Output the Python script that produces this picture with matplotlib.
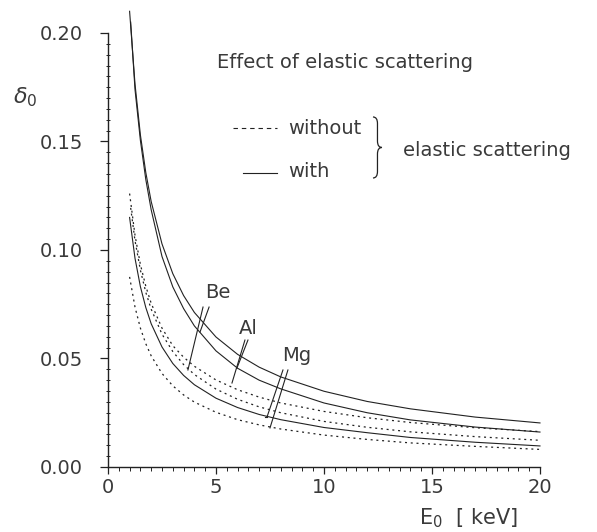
import matplotlib
matplotlib.use("Agg")
import matplotlib.pyplot as plt
from matplotlib.path import Path
from matplotlib.patches import PathPatch
from matplotlib.ticker import MultipleLocator, FormatStrFormatter

# beam energy grid [keV] and backscattering yield delta_0
E_be_with = [1.0, 1.25, 1.5, 1.75, 2, 2.5, 3, 3.5, 4, 5, 6, 7, 8, 10, 12, 14, 17, 20]
be_with = [0.210, 0.1765, 0.1530, 0.1357, 0.1223, 0.1028, 0.0891, 0.0790, 0.0712,
           0.0599, 0.0519, 0.0460, 0.0415, 0.0349, 0.0302, 0.0268, 0.0230, 0.0203]

E_al_with = [1.05, 1.25, 1.5, 1.75, 2, 2.5, 3, 3.5, 4, 5, 6, 7, 8, 10, 12, 14, 17, 20]
al_with = [0.205, 0.174, 0.1505, 0.1325, 0.1185, 0.097, 0.083, 0.073, 0.0650,
           0.0535, 0.0455, 0.0400, 0.0360, 0.0295, 0.0250, 0.0217, 0.0184, 0.0161]

E_mg_with = [1.0, 1.25, 1.5, 1.75, 2, 2.5, 3, 3.5, 4, 5, 6, 7, 8, 10, 12, 14, 17, 20]
mg_with = [0.115, 0.0962, 0.0831, 0.0735, 0.0660, 0.0553, 0.0477, 0.0422, 0.0379,
           0.0317, 0.0274, 0.0242, 0.0218, 0.0182, 0.0158, 0.0136, 0.0114, 0.0097]

E_be_without = [1.0, 1.25, 1.5, 1.75, 2, 2.5, 3, 3.5, 4, 5, 6, 7, 8, 10, 12, 14, 17, 20]
be_without = [0.126, 0.1068, 0.0933, 0.0833, 0.0754, 0.0640, 0.0559, 0.0506, 0.0464,
              0.0401, 0.0356, 0.0322, 0.0295, 0.0256, 0.0227, 0.0205, 0.0181, 0.0163]

E_al_without = [1.05, 1.25, 1.5, 1.75, 2, 2.5, 3, 3.5, 4, 5, 6, 7, 8, 10, 12, 14, 17, 20]
al_without = [0.1194, 0.1043, 0.0907, 0.0805, 0.0727, 0.0612, 0.0532, 0.0472, 0.0426,
              0.0359, 0.0312, 0.0277, 0.0250, 0.0210, 0.0183, 0.0162, 0.0140, 0.0123]

E_mg_without = [1.0, 1.25, 1.5, 1.75, 2, 2.5, 3, 3.5, 4, 5, 6, 7, 8, 10, 12, 14, 17, 20]
mg_without = [0.0876, 0.0737, 0.0640, 0.0568, 0.0512, 0.0431, 0.0374, 0.0332, 0.0299,
              0.0252, 0.0218, 0.0194, 0.0175, 0.0147, 0.0127, 0.0111, 0.0095, 0.0081]

# element labels and their pointer strokes (data coords)
labels = ["Be", "Al", "Mg"]
label_pos = [(5.09, 0.0802), (6.48, 0.0640), (8.06, 0.0516)]
label_ha = ["center", "center", "left"]
strokes = [
    [(3.70, 0.0447), (4.40, 0.0737)], [(4.26, 0.0622), (4.68, 0.0737)],
    [(5.74, 0.0387), (6.34, 0.0585)], [(5.97, 0.0456), (6.48, 0.0585)],
    [(7.50, 0.0180), (8.33, 0.0447)], [(7.36, 0.0230), (8.10, 0.0447)],
    [(7.25, 0.0230), (7.36, 0.0230)],
]

ink = "#222222"
txt = "#3a3a3a"
dots = (0, (1.6, 3.0))

fig = plt.figure(figsize=(5.97, 5.32), dpi=100)
ax = fig.add_axes([0.1809, 0.1222, 0.7236, 0.8158])

for E, d in [(E_be_with, be_with), (E_al_with, al_with), (E_mg_with, mg_with)]:
    ax.plot(E, d, color=ink, lw=0.8, clip_on=False)
for E, d in [(E_be_without, be_without), (E_al_without, al_without),
             (E_mg_without, mg_without)]:
    ax.plot(E, d, color=ink, lw=0.9, ls=dots, clip_on=False)

for s in strokes:
    ax.plot([s[0][0], s[1][0]], [s[0][1], s[1][1]], color=ink, lw=0.8)
for t, p, ha in zip(labels, label_pos, label_ha):
    ax.text(p[0], p[1], t, ha=ha, va="center", fontsize=14, color=txt)

ax.set_xlim(0, 20)
ax.set_ylim(0, 0.20)
ax.xaxis.set_major_locator(MultipleLocator(5))
ax.xaxis.set_minor_locator(MultipleLocator(0.5))
ax.yaxis.set_major_locator(MultipleLocator(0.05))
ax.yaxis.set_minor_locator(MultipleLocator(0.005))
ax.yaxis.set_major_formatter(FormatStrFormatter("%.2f"))
ax.xaxis.set_major_formatter(FormatStrFormatter("%d"))

for side in ["top", "right"]:
    ax.spines[side].set_visible(False)
for side in ["left", "bottom"]:
    ax.spines[side].set_linewidth(1.0)
    ax.spines[side].set_color(ink)

ax.tick_params(axis="x", which="major", direction="out", length=5, width=0.9,
               pad=3, labelsize=14, colors=ink, labelcolor=txt)
ax.tick_params(axis="x", which="minor", direction="out", length=3, width=0.7, colors=ink)
ax.tick_params(axis="y", which="major", direction="out", length=6, width=0.9,
               pad=12, labelsize=14, colors=ink, labelcolor=txt)
ax.tick_params(axis="y", which="minor", direction="inout", length=3, width=0.7, colors=ink)

ax.text(-0.192, 0.852, r"$\delta_0$", transform=ax.transAxes, fontsize=16,
        ha="center", va="center", color=txt)
ax.text(0.949, -0.1175, r"$\mathregular{E_0}$  [ keV]", transform=ax.transAxes,
        fontsize=15, ha="right", va="center", color=txt)

# legend drawn by hand, like the original
ax.text(0.252, 0.931, "Effect of elastic scattering", transform=ax.transAxes,
        fontsize=14, ha="left", va="center", color=txt)
ax.plot([0.289, 0.391], [0.781, 0.781], transform=ax.transAxes, color=ink,
        lw=0.8, ls=(0, (4, 3.5)), clip_on=False)
ax.text(0.417, 0.781, "without", transform=ax.transAxes, fontsize=14,
        ha="left", va="center", color=txt)
ax.plot([0.3125, 0.391], [0.677, 0.677], transform=ax.transAxes, color=ink,
        lw=0.8, clip_on=False)
ax.text(0.417, 0.680, "with", transform=ax.transAxes, fontsize=14,
        ha="left", va="center", color=txt)
ax.text(0.683, 0.730, "elastic scattering", transform=ax.transAxes, fontsize=14,
        ha="left", va="center", color=txt)


def brace(ax, x0, ytop, ybot, w, r):
    yc = (ytop + ybot) / 2
    xm = x0 + w / 2
    verts = [(x0, ytop), (xm, ytop), (xm, ytop - r), (xm, yc + r),
             (xm, yc), (x0 + w, yc), (xm, yc), (xm, yc - r),
             (xm, ybot + r), (xm, ybot), (x0, ybot)]
    codes = [Path.MOVETO, Path.CURVE3, Path.CURVE3, Path.LINETO,
             Path.CURVE3, Path.CURVE3, Path.CURVE3, Path.CURVE3,
             Path.LINETO, Path.CURVE3, Path.CURVE3]
    ax.add_patch(PathPatch(Path(verts, codes), transform=ax.transAxes,
                           fill=False, lw=0.9, ec=ink, clip_on=False))


brace(ax, 0.6134, 0.8065, 0.6659, 0.0208, 0.015)

fig.savefig("out.png", dpi=100)
